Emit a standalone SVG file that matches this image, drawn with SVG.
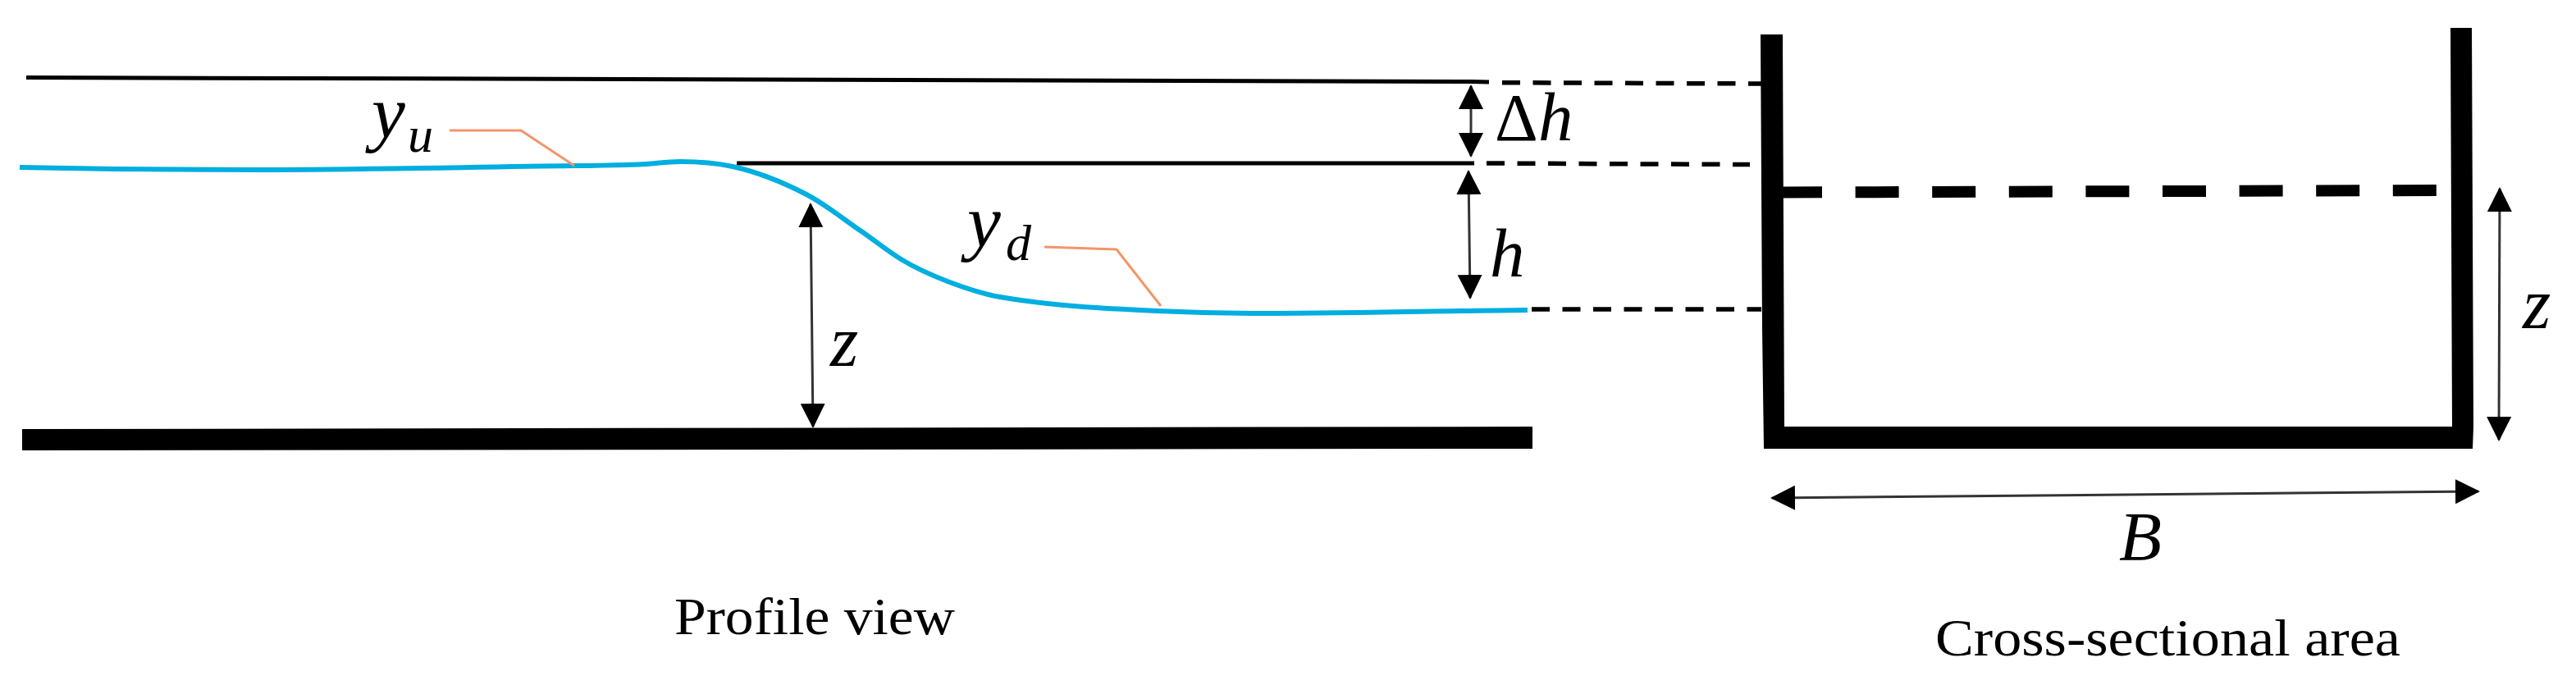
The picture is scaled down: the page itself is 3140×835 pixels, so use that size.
<svg xmlns="http://www.w3.org/2000/svg" width="3140" height="835" viewBox="0 0 3140 835">
  <style>
    .math { font-family: "Liberation Serif", "Times New Roman", serif; font-style: italic; fill: #000; }
    .caption { font-family: "Liberation Serif", "Times New Roman", serif; font-size: 64px; fill: #000; }
    .line { fill: none; stroke: #000; stroke-width: 5; }
    .dash { fill: none; stroke: #000; stroke-width: 5.5; stroke-dasharray: 22 15.5; }
    .dim { fill: none; stroke: #333; stroke-width: 3; marker-start: url(#head); marker-end: url(#head); }
    .leader { fill: none; stroke: #f4956a; stroke-width: 3; }
  </style>
  <defs>
    <marker id="head" viewBox="0 0 30 30" markerWidth="30" markerHeight="30" markerUnits="userSpaceOnUse" refX="28" refY="15" orient="auto-start-reverse">
      <path d="M0 0L30 15L0 30Z" fill="#000"/>
    </marker>
  </defs>
  <rect width="3140" height="835" fill="#fff"/>

  <g id="profile-channel">
    <path id="energy-line" class="line" d="M32 94.5L1793 99.5L1815 100"/>
    <path id="head-line" class="line" d="M898 199L1797 199"/>
    <path id="water-surface" fill="none" stroke="#00aee0" stroke-width="6" d="M24 204C122 206 221 207 319 207C446 207 574 203.5 701 202C727 201.7 752 201.3 778 200.5C795 200 812 197 829 197C850 197 872 198.4 893 203C923 209.6 953 221.4 983 237C1005 248.4 1028 267 1050 282C1067 293.5 1083 307 1100 317C1118 328 1137 336 1155 343C1176 351 1198 358.5 1219 362C1283 373 1346 376 1410 379C1453 381 1495 382 1538 382C1646 382 1754 379 1862 378"/>
    <polygon id="bed" fill="#000" points="27,523 1868,520 1868,547 27,549"/>
  </g>

  <g id="cross-section">
    <polygon id="walls" fill="#000" points="2146,42 2173,42 2175,520 2989,520 2987,34 3013,34 3015,520 3014,547 2150,547 2148,400"/>
    <path id="water-level" fill="none" stroke="#000" stroke-width="14" stroke-dasharray="53 40.6" stroke-dashoffset="5" d="M2173 234.5L2970 232"/>
  </g>

  <g id="connectors">
    <path class="dash" d="M1831 100.7L2147 102"/>
    <path class="dash" d="M1812 199L2133 200.5"/>
    <path class="dash" d="M1867 377L2147 377"/>
    <path class="dim" d="M1793 105L1793 190"/>
    <path class="dim" d="M1790 209L1792 363"/>
    <path class="dim" d="M988 249L991 520"/>
    <path class="dim" d="M3047 230L3046 536"/>
    <path class="dim" d="M2160 607L3021 599"/>
    <path class="leader" d="M548 159L635 159L700 202"/>
    <path class="leader" d="M1273 301L1361 304L1415 373"/>
  </g>

  <g id="label-yu">
    <text class="math" x="453" y="168" font-size="92">y</text>
    <text class="math" x="497" y="185" font-size="62">u</text>
  </g>
  <g id="label-yd">
    <text class="math" x="1179" y="301" font-size="92">y</text>
    <text class="math" x="1226" y="317" font-size="62">d</text>
  </g>
  <g id="label-delta-h">
    <text x="1822" y="171" font-size="82" style="font-family:'Liberation Serif','Times New Roman',serif">Δ</text>
    <text class="math" x="1875" y="171" font-size="85">h</text>
  </g>
  <g id="label-h"><text class="math" x="1816" y="337" font-size="85">h</text></g>
  <g id="label-z-profile"><text class="math" x="1012" y="446" font-size="88">z</text></g>
  <g id="label-z-section"><text class="math" x="3075" y="400" font-size="88">z</text></g>
  <g id="label-b"><text class="math" x="2583" y="683" font-size="85">B</text></g>
  <g id="caption-profile"><text class="caption" x="822" y="773" textLength="342" lengthAdjust="spacingAndGlyphs">Profile view</text></g>
  <g id="caption-section"><text class="caption" x="2359" y="799" textLength="567" lengthAdjust="spacingAndGlyphs">Cross-sectional area</text></g>
</svg>
